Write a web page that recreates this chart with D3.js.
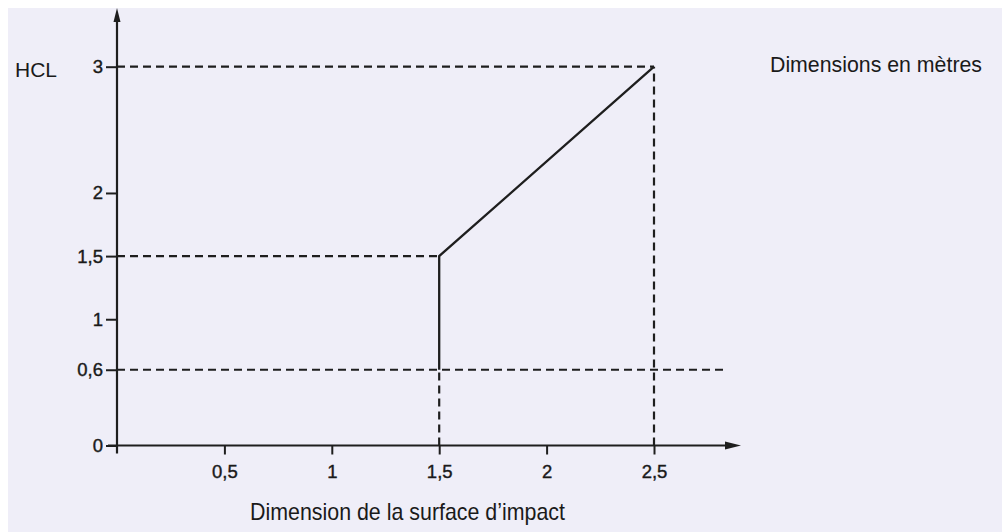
<!DOCTYPE html>
<html>
<head>
<meta charset="utf-8">
<script src="https://cdn.jsdelivr.net/npm/d3@7"></script>
<style>
  html, body { margin: 0; padding: 0; background: #ffffff; }
  svg { display: block; }
  text { font-family: "Liberation Sans", Arial, Helvetica, sans-serif; fill: #1a1a1a; }
</style>
</head>
<body>
<svg id="chart" width="1002" height="532"></svg>
<script>
// ---- data ----
const xTicks = [0.5, 1, 1.5, 2, 2.5];
const xTickLabels = ["0,5", "1", "1,5", "2", "2,5"];
const yTicks = [0, 0.6, 1, 1.5, 2, 3];
const yTickLabels = ["0", "0,6", "1", "1,5", "2", "3"];
// solid HCL curve (dimension, HCL)
const curveX = [1.5, 1.5, 2.5];
const curveY = [0.6, 1.5, 3];
// dashed guide segments
const guideStartX = [0, 0, 0, 1.5, 2.5];
const guideStartY = [3, 1.5, 0.6, 0, 0];
const guideEndX   = [2.5, 1.5, 2.84, 1.5, 2.5];
const guideEndY   = [3, 1.5, 0.6, 0.6, 3];

const xTitle = "Dimension de la surface d\u2019impact";
const yTitle = "HCL";
const unitNote = "Dimensions en m\u00e8tres";

// ---- drawing ----
const svg = d3.select("#chart");
const ink = "#1e1e1e";

svg.append("rect").attr("x", 8).attr("y", 8).attr("width", 994).attr("height", 524)
  .attr("fill", "#efeef8");

const x = d3.scaleLinear().domain([0, 2.5]).range([117, 654]);
const y = d3.scaleLinear().domain([0, 3]).range([445.5, 66.7]);

// dashed guides
const guides = guideStartX.map((d, i) => ({x1: d, y1: guideStartY[i], x2: guideEndX[i], y2: guideEndY[i]}));
svg.append("g").selectAll("line").data(guides).join("line")
  .attr("x1", d => x(d.x1)).attr("y1", d => y(d.y1))
  .attr("x2", d => x(d.x2)).attr("y2", d => y(d.y2))
  .attr("stroke", ink).attr("stroke-width", 2.2)
  .attr("stroke-dasharray", "8,5");

// solid curve
const pts = curveX.map((d, i) => [d, curveY[i]]);
svg.append("path")
  .attr("d", d3.line().x(d => x(d[0])).y(d => y(d[1]))(pts))
  .attr("fill", "none").attr("stroke", ink).attr("stroke-width", 2.3);

// axes (ticks + labels)
const xAxis = d3.axisBottom(x).tickValues(xTicks)
  .tickFormat((d, i) => xTickLabels[i]).tickSize(9).tickSizeOuter(0).tickPadding(10);
const gx = svg.append("g").attr("transform", `translate(0,${y(0)})`).call(xAxis);
gx.select(".domain").remove();
gx.selectAll(".tick line").attr("stroke", ink).attr("stroke-width", 2);
gx.selectAll(".tick text").attr("font-size", 18.5).attr("fill", "#1a1a1a")
  .attr("stroke", "#1a1a1a").attr("stroke-width", 0.4)
  .attr("font-family", "'Liberation Sans', Arial, sans-serif");

const yAxis = d3.axisLeft(y).tickValues(yTicks)
  .tickFormat((d, i) => yTickLabels[i]).tickSize(11).tickSizeOuter(0).tickPadding(3);
const gy = svg.append("g").attr("transform", `translate(${x(0)},0)`).call(yAxis);
gy.select(".domain").remove();
gy.selectAll(".tick line").attr("stroke", ink).attr("stroke-width", 2);
gy.selectAll(".tick text").attr("font-size", 18.5).attr("fill", "#1a1a1a")
  .attr("stroke", "#1a1a1a").attr("stroke-width", 0.4)
  .attr("font-family", "'Liberation Sans', Arial, sans-serif");

// axis lines with arrows
svg.append("line").attr("x1", x(0)).attr("y1", y(0) + 8).attr("x2", x(0)).attr("y2", 18)
  .attr("stroke", ink).attr("stroke-width", 2.2);
svg.append("path")
  .attr("d", `M${x(0)},8 L${x(0) - 3.5},22 L${x(0) + 3.5},22 Z`).attr("fill", ink);
svg.append("line").attr("x1", x(0) - 9).attr("y1", y(0)).attr("x2", 728).attr("y2", y(0))
  .attr("stroke", ink).attr("stroke-width", 2.2);
svg.append("path")
  .attr("d", `M741,${y(0)} L725,${y(0) - 4} L725,${y(0) + 4} Z`).attr("fill", ink);

// titles
svg.append("text").attr("x", 15).attr("y", 77).attr("font-size", 21)
  .attr("textLength", 42).attr("lengthAdjust", "spacingAndGlyphs").text(yTitle);
svg.append("text").attr("x", 250).attr("y", 520)
  .attr("font-size", 24).attr("textLength", 315).attr("lengthAdjust", "spacingAndGlyphs")
  .text(xTitle);
svg.append("text").attr("x", 770).attr("y", 72).attr("font-size", 22.5)
  .attr("textLength", 212).attr("lengthAdjust", "spacingAndGlyphs").text(unitNote);
</script>
</body>
</html>
